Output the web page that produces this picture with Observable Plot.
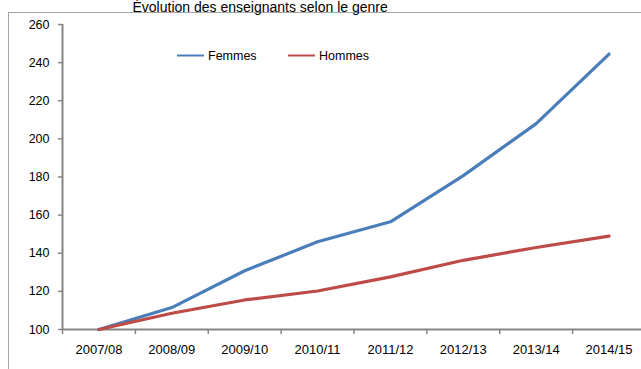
<!DOCTYPE html>
<html>
<head>
<meta charset="utf-8">
<script src="https://cdn.jsdelivr.net/npm/d3@7"></script>
<script src="https://cdn.jsdelivr.net/npm/@observablehq/plot@0.6"></script>
<style>
  html, body { margin: 0; padding: 0; background: #fff; overflow: hidden; }
</style>
</head>
<body>
<div id="chart"></div>
<script>
const title = "Évolution des enseignants selon le genre";
const categories = ["2007/08", "2008/09", "2009/10", "2010/11", "2011/12", "2012/13", "2013/14", "2014/15"];
const femmes = [100, 111.5, 130.8, 146, 156.5, 180.7, 208, 244.5];
const hommes = [100, 108.5, 115.5, 120.2, 127.6, 136.3, 143, 149];
const seriesNames = ["Femmes", "Hommes"];
const seriesColors = ["#4a7ebb", "#be4b48"];
const yTicks = [100, 120, 140, 160, 180, 200, 220, 240, 260];

const rows = [];
categories.forEach((c, i) => {
  rows.push({serie: seriesNames[0], pos: i + 0.5, value: femmes[i]});
});
categories.forEach((c, i) => {
  rows.push({serie: seriesNames[1], pos: i + 0.5, value: hommes[i]});
});

const axisGray = "#868686";

const chart = Plot.plot({
  width: 641,
  height: 369,
  marginTop: 24,
  marginBottom: 40,
  marginLeft: 62,
  marginRight: 0,
  style: {fontFamily: "'Liberation Sans', Arial, sans-serif", fontSize: "12.5px", background: "#fff", color: "#000"},
  x: {type: "linear", domain: [0, categories.length], range: [62, 645], axis: null, label: null},
  y: {domain: [100, 260], range: [329, 24], axis: null, label: null},
  color: {domain: seriesNames, range: seriesColors},
  marks: [
    Plot.axisY({ticks: yTicks, label: null, tickSize: 4, tickPadding: 9, stroke: axisGray, strokeWidth: 1.5, fill: "#000", tickFormat: d => String(d)}),
    Plot.axisX({ticks: d3.range(0, categories.length + 1), label: null, tickSize: 5, stroke: axisGray, strokeWidth: 1.5, tickFormat: () => ""}),
    Plot.ruleX([0], {stroke: axisGray, strokeWidth: 2}),
    Plot.ruleY([100], {stroke: axisGray, strokeWidth: 2}),
    Plot.text(categories, {x: (d, i) => i + 0.5, frameAnchor: "bottom", dy: 24, fill: "#000", fontSize: 13}),
    Plot.line(rows, {x: "pos", y: "value", z: "serie", stroke: "serie", strokeWidth: 3.2, strokeLinecap: "round", strokeLinejoin: "round"}),
    Plot.text([title], {frameAnchor: "top-left", dx: 70, dy: -22, textAnchor: "start", lineAnchor: "top", fontSize: 14, fill: "#000"})
  ]
});

document.getElementById("chart").appendChild(chart);

const svg = d3.select(chart);
// outer chart-area border (extends beyond the picture on the right and bottom)
svg.insert("rect", ":first-child")
  .attr("x", 8.5).attr("y", 12.5).attr("width", 700).attr("height", 400)
  .attr("fill", "none").attr("stroke", "#a6a6a6").attr("stroke-width", 1);

// legend
const legend = svg.append("g").attr("font-size", 12.5).attr("text-anchor", "start");
const legendX = [177, 288];
seriesNames.forEach((name, i) => {
  const g = legend.append("g").attr("transform", `translate(${legendX[i]},55.5)`);
  g.append("line").attr("x1", 0).attr("x2", 27).attr("y1", 0).attr("y2", 0)
    .attr("stroke", seriesColors[i]).attr("stroke-width", 2);
  g.append("text").attr("x", 31).attr("y", 0).attr("dy", "0.35em").attr("fill", "#000")
    .attr("text-anchor", "start").text(name);
});
</script>
</body>
</html>
